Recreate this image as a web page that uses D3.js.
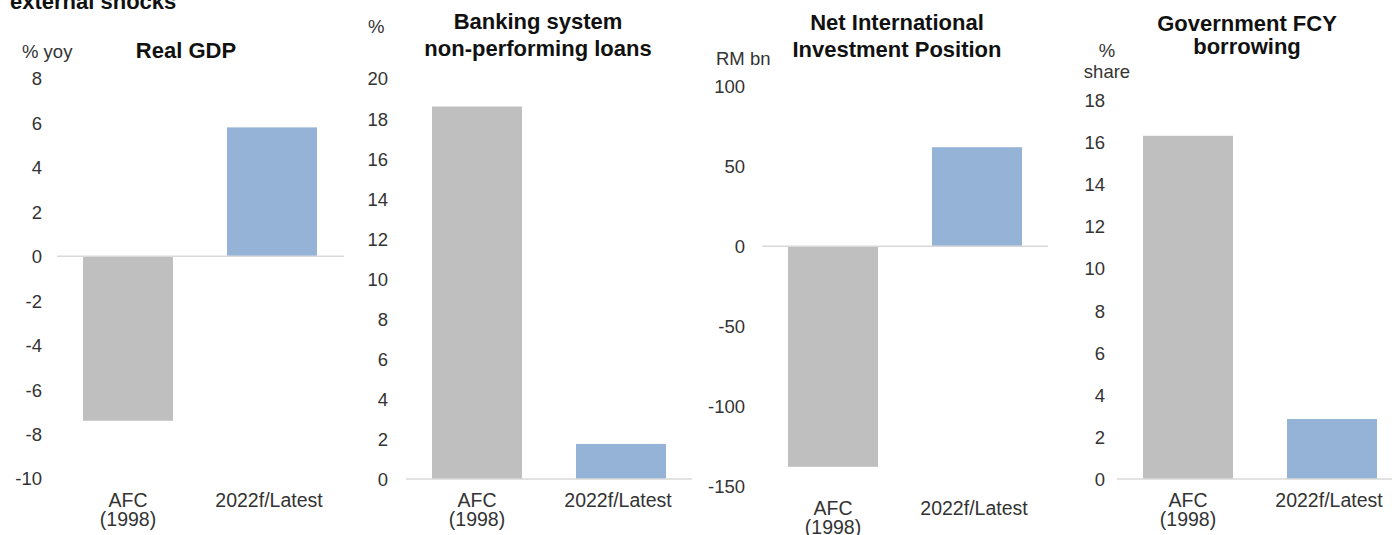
<!DOCTYPE html>
<html>
<head>
<meta charset="utf-8">
<script src="https://cdn.jsdelivr.net/npm/d3@7.9.0/dist/d3.min.js"></script>
<style>
  body { margin: 0; background: #fff; }
  svg { display: block; font-family: "Liberation Sans", Arial, sans-serif; }
  .tick text { fill: #333; font-size: 18.5px; }
  .title { font-weight: bold; font-size: 22px; fill: #111; }
  .unit { font-size: 18.5px; fill: #333; }
  .cat { font-size: 19.5px; fill: #333; }
</style>
</head>
<body>
<svg id="chart" width="1392" height="535"></svg>
<script>
// data
const categories = [["AFC", "(1998)"], ["2022f/Latest"]];
const gdpValues = [-7.4, 5.8];
const nplValues = [18.6, 1.75];
const niipValues = [-138, 62];
const fcyValues = [16.3, 2.85];

const gdpTicks = [8, 6, 4, 2, 0, -2, -4, -6, -8, -10];
const nplTicks = [20, 18, 16, 14, 12, 10, 8, 6, 4, 2, 0];
const niipTicks = [100, 50, 0, -50, -100, -150];
const fcyTicks = [18, 16, 14, 12, 10, 8, 6, 4, 2, 0];

const colors = ["#bfbfbf", "#95b3d7"];

const svg = d3.select("#chart");

// top heading, cut off in the original
svg.append("text")
  .attr("class", "title")
  .attr("x", 10).attr("y", 9)
  .text("external shocks");

// one object per small chart: where it sits on the page
const panels = [
  { title: ["Real GDP"], titleX: 186, titleY: [58],
    unit: ["% yoy"], unitX: 22, unitY: [58], unitAnchor: "start",
    values: gdpValues, ticks: gdpTicks, domain: [-10, 8],
    x0: 56, x1: 344, yTop: 78.5, yBottom: 478.5, axisX: 42, catY: 507, lineEnd: 344 },
  { title: ["Banking system", "non-performing loans"], titleX: 538, titleY: [29, 56],
    unit: ["%"], unitX: 368, unitY: [33], unitAnchor: "start",
    values: nplValues, ticks: nplTicks, domain: [0, 20],
    x0: 405, x1: 693, yTop: 78.5, yBottom: 479, axisX: 388, catY: 507, lineEnd: 692 },
  { title: ["Net International", "Investment Position"], titleX: 897, titleY: [30, 57],
    unit: ["RM bn"], unitX: 716, unitY: [65], unitAnchor: "start",
    values: niipValues, ticks: niipTicks, domain: [-150, 100],
    x0: 761, x1: 1049, yTop: 86.5, yBottom: 486, axisX: 745, catY: 515, lineEnd: 1048 },
  { title: ["Government FCY", "borrowing"], titleX: 1247, titleY: [31, 54],
    unit: ["%", "share"], unitX: 1107, unitY: [57, 78], unitAnchor: "middle",
    values: fcyValues, ticks: fcyTicks, domain: [0, 18],
    x0: 1116, x1: 1404, yTop: 100, yBottom: 479, axisX: 1105, catY: 507, lineEnd: 1392 }
];

panels.forEach(p => {
  const g = svg.append("g");

  const x = d3.scaleBand()
    .domain(d3.range(categories.length))
    .range([p.x0, p.x1])
    .paddingInner(0.375)
    .paddingOuter(0.1875);

  const y = d3.scaleLinear()
    .domain(p.domain)
    .range([p.yBottom, p.yTop]);

  // y axis labels only, plain hyphen for negatives like the original
  const axis = g.append("g")
    .attr("transform", `translate(${p.axisX},0)`)
    .call(d3.axisLeft(y).tickValues(p.ticks).tickSize(0).tickPadding(0).tickFormat(d => String(d)));
  axis.select(".domain").remove();
  axis.selectAll("text").attr("dy", "0.35em").attr("font-family", null).attr("font-size", null);

  // bars
  g.selectAll("rect")
    .data(p.values)
    .join("rect")
    .attr("x", (d, i) => x(i))
    .attr("width", x.bandwidth())
    .attr("y", d => y(Math.max(0, d)))
    .attr("height", d => Math.abs(y(d) - y(0)))
    .attr("fill", (d, i) => colors[i]);

  // zero line
  g.append("line")
    .attr("x1", p.x0 + 1).attr("x2", p.lineEnd)
    .attr("y1", y(0)).attr("y2", y(0))
    .attr("stroke", "#d9d9d9").attr("stroke-width", 1.5);

  // category labels
  categories.forEach((lines, i) => {
    const t = g.append("text")
      .attr("class", "cat")
      .attr("text-anchor", "middle");
    lines.forEach((s, k) => {
      t.append("tspan")
        .attr("x", x(i) + x.bandwidth() / 2 - (i === 1 ? 3 : 0))
        .attr("y", p.catY + k * 19)
        .text(s);
    });
  });

  // title
  p.title.forEach((s, k) => {
    g.append("text")
      .attr("class", "title")
      .attr("text-anchor", "middle")
      .attr("x", p.titleX).attr("y", p.titleY[k])
      .text(s);
  });

  // unit
  p.unit.forEach((s, k) => {
    g.append("text")
      .attr("class", "unit")
      .attr("text-anchor", p.unitAnchor)
      .attr("x", p.unitX).attr("y", p.unitY[k])
      .text(s);
  });
});
</script>
</body>
</html>
